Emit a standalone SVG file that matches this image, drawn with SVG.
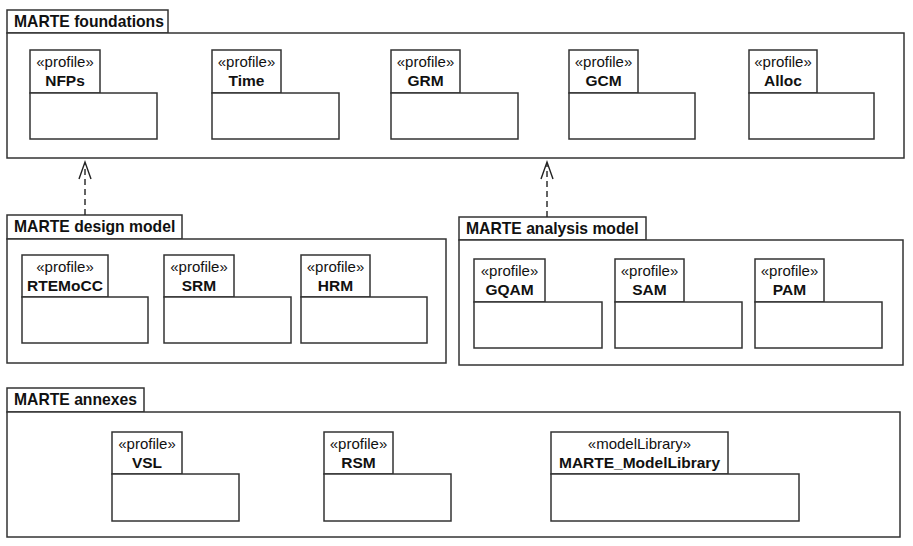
<svg xmlns="http://www.w3.org/2000/svg" width="913" height="546" viewBox="0 0 913 546">
<defs>
<style>
rect{fill:#fff;stroke:#333;stroke-width:1.5}
.title{font-family:"Liberation Sans",Arial,sans-serif;font-weight:bold;font-size:15.7px;fill:#111}
.st{font-family:"Liberation Sans",Arial,sans-serif;font-size:15px;fill:#111;text-anchor:middle}
.nm{font-family:"Liberation Sans",Arial,sans-serif;font-weight:bold;font-size:15.5px;fill:#111;text-anchor:middle}
.dep{fill:none;stroke:#222;stroke-width:1.4;stroke-dasharray:6,4}
.head{fill:none;stroke:#222;stroke-width:1.4}
</style>
</defs>
<rect width="913" height="546" style="fill:#fff;stroke:none"/>

<g id="foundations">
<rect x="7" y="10" width="161" height="23"/>
<rect x="7" y="33" width="897" height="125"/>
<text class="title" x="14" y="27">MARTE foundations</text>
</g>
<g id="NFPs"><rect x="30" y="50" width="70" height="43"/><rect x="30" y="93" width="127" height="46"/>
<text class="st" x="65" y="67">«profile»</text><text class="nm" x="65" y="86">NFPs</text></g>
<g id="Time"><rect x="212" y="50" width="69" height="43"/><rect x="212" y="93" width="127" height="46"/>
<text class="st" x="246.5" y="67">«profile»</text><text class="nm" x="246.5" y="86">Time</text></g>
<g id="GRM"><rect x="391" y="50" width="69" height="43"/><rect x="391" y="93" width="127" height="46"/>
<text class="st" x="425.5" y="67">«profile»</text><text class="nm" x="425.5" y="86">GRM</text></g>
<g id="GCM"><rect x="569" y="50" width="69" height="43"/><rect x="569" y="93" width="126" height="46"/>
<text class="st" x="603.5" y="67">«profile»</text><text class="nm" x="603.5" y="86">GCM</text></g>
<g id="Alloc"><rect x="749" y="50" width="68" height="43"/><rect x="749" y="93" width="125" height="46"/>
<text class="st" x="783" y="67">«profile»</text><text class="nm" x="783" y="86">Alloc</text></g>

<g id="design">
<rect x="7" y="215" width="175" height="24"/>
<rect x="7" y="239" width="439" height="124"/>
<text class="title" x="14" y="232">MARTE design model</text>
</g>
<g id="RTEMoCC"><rect x="22" y="255" width="86" height="42"/><rect x="22" y="297" width="126" height="46"/>
<text class="st" x="65" y="272">«profile»</text><text class="nm" x="65" y="291">RTEMoCC</text></g>
<g id="SRM"><rect x="164" y="255" width="70" height="42"/><rect x="164" y="297" width="127" height="46"/>
<text class="st" x="199" y="272">«profile»</text><text class="nm" x="199" y="291">SRM</text></g>
<g id="HRM"><rect x="301" y="255" width="69" height="42"/><rect x="301" y="297" width="126" height="46"/>
<text class="st" x="335.5" y="272">«profile»</text><text class="nm" x="335.5" y="291">HRM</text></g>

<g id="analysis">
<rect x="459" y="217" width="187" height="23"/>
<rect x="459" y="240" width="444" height="125"/>
<text class="title" x="466" y="234">MARTE analysis model</text>
</g>
<g id="GQAM"><rect x="474" y="259" width="71" height="43"/><rect x="474" y="302" width="128" height="46"/>
<text class="st" x="509.5" y="276">«profile»</text><text class="nm" x="509.5" y="295">GQAM</text></g>
<g id="SAM"><rect x="615" y="259" width="69" height="43"/><rect x="615" y="302" width="127" height="46"/>
<text class="st" x="649.5" y="276">«profile»</text><text class="nm" x="649.5" y="295">SAM</text></g>
<g id="PAM"><rect x="755" y="259" width="69" height="43"/><rect x="755" y="302" width="127" height="46"/>
<text class="st" x="789.5" y="276">«profile»</text><text class="nm" x="789.5" y="295">PAM</text></g>

<g id="annexes">
<rect x="7" y="388" width="137" height="24"/>
<rect x="7" y="412" width="893" height="125"/>
<text class="title" x="14" y="405">MARTE annexes</text>
</g>
<g id="VSL"><rect x="112" y="432" width="70" height="42"/><rect x="112" y="474" width="127" height="47"/>
<text class="st" x="147" y="449">«profile»</text><text class="nm" x="147" y="468">VSL</text></g>
<g id="RSM"><rect x="324" y="432" width="69" height="42"/><rect x="324" y="474" width="127" height="47"/>
<text class="st" x="358.5" y="449">«profile»</text><text class="nm" x="358.5" y="468">RSM</text></g>
<g id="MARTE_ModelLibrary"><rect x="551" y="432" width="177" height="42"/><rect x="551" y="474" width="248" height="47"/>
<text class="st" x="639.5" y="449">«modelLibrary»</text><text class="nm" x="639.5" y="468">MARTE_ModelLibrary</text></g>

<g id="connectors">
<line class="dep" x1="85" y1="215" x2="85" y2="164"/>
<polyline class="head" points="79,179 85,162 91,179"/>
<line class="dep" x1="547" y1="217" x2="547" y2="164"/>
<polyline class="head" points="541,179 547,162 553,179"/>
</g>
</svg>
